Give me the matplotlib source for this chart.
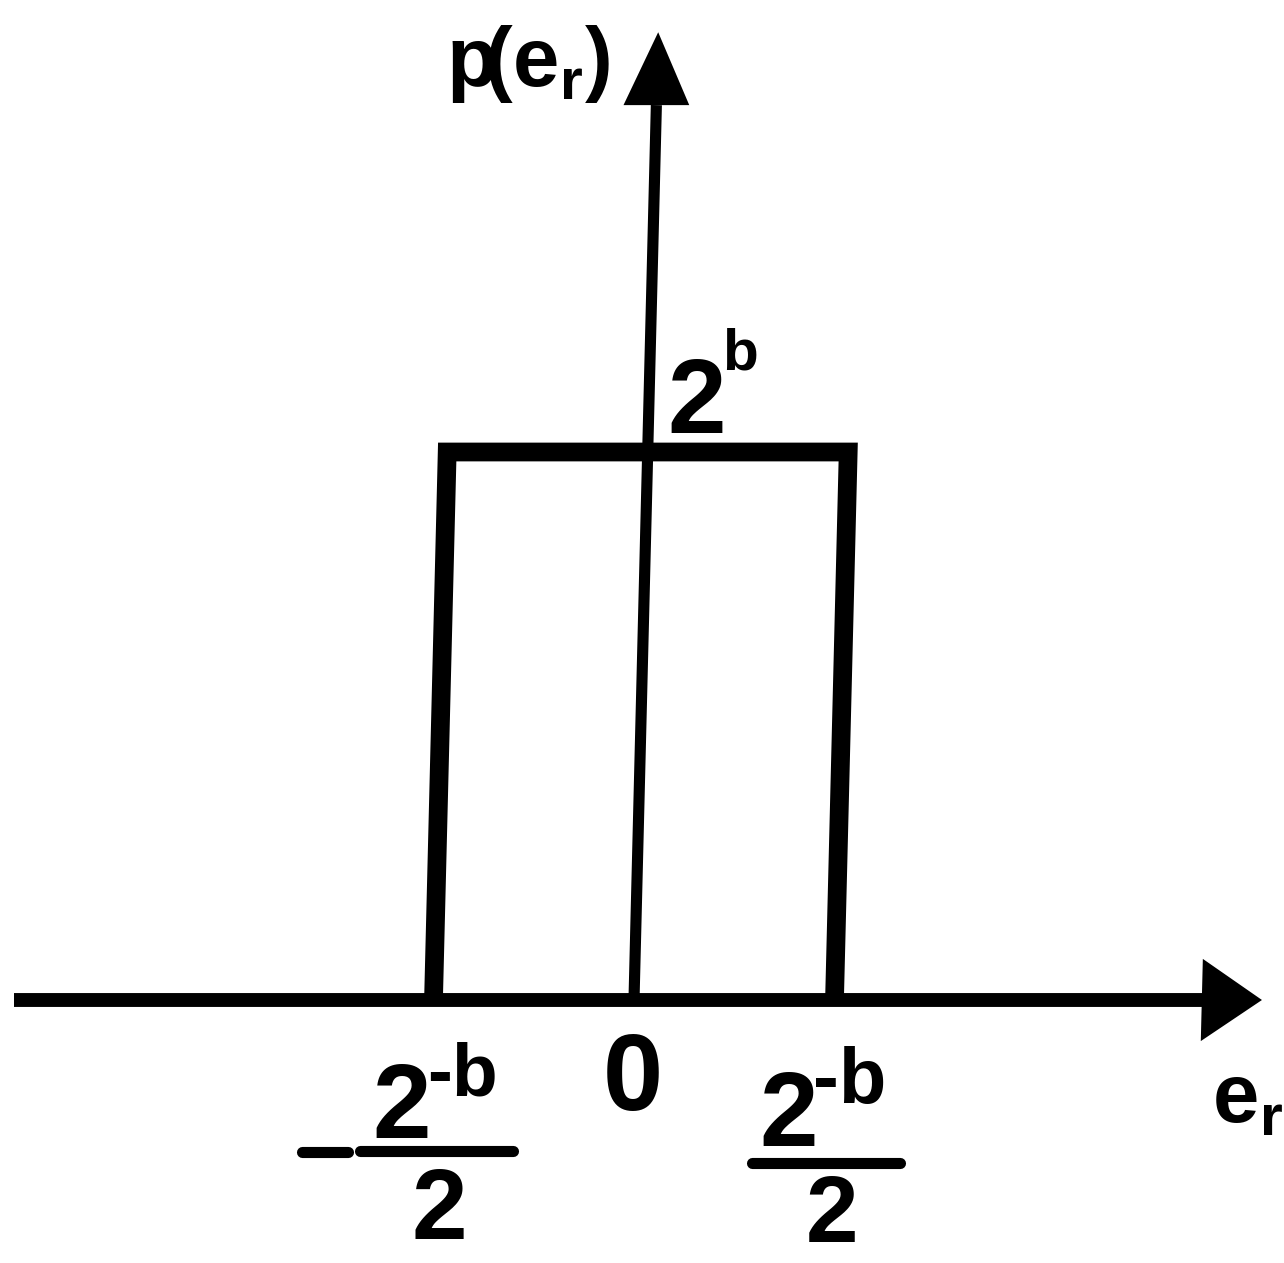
import numpy as np
import matplotlib
matplotlib.use("Agg")
import matplotlib.pyplot as plt
from matplotlib.transforms import Affine2D, IdentityTransform
from matplotlib.patches import Polygon

FONT = ["Liberation Sans", "DejaVu Sans"]
plt.rcParams["mathtext.fontset"] = "custom"
plt.rcParams["mathtext.default"] = "bf"
plt.rcParams["mathtext.bf"] = "Liberation Sans:bold"
plt.rcParams["mathtext.rm"] = "Liberation Sans:bold"
plt.rcParams["mathtext.it"] = "Liberation Sans:bold"

# uniform pdf of the rounding error e_r
err_lo = -0.5          # -2^-b / 2   (x in units of 2^-b)
err_hi = 0.5           #  2^-b / 2
pdf_height = 1.0       #  2^b
tick_vals = [-0.5, 0.0, 0.5]

# axis extents (data units)
x_axis = [-1.546, 1.416]
x_tip = 1.566
y_axis = [0.0, 1.633]
y_tip = 1.766

fig = plt.figure(figsize=(12.84, 12.63), dpi=100)
ax = fig.add_axes([0, 0, 1, 1])
ax.set_xlim(-634 / 401, 650 / 401)
ax.set_ylim(-263 / 548, 1000 / 548)
ax.axis("off")

# the scanned figure leans a little to the right: skew about the x axis
y0 = ax.transData.transform((0, 0))[1]
lean = Affine2D().translate(0, -y0).skew(np.arctan(0.025), 0).translate(0, y0)
tr = ax.transData + lean

# axes
ax.plot(x_axis, [0, 0], color="black", lw=10, solid_capstyle="butt", transform=tr)
ax.add_patch(Polygon([[x_axis[1], -0.075], [x_axis[1], 0.075], [x_tip, 0]],
                     closed=True, color="black", lw=0, transform=tr))
ax.plot([0, 0], y_axis, color="black", lw=8, solid_capstyle="butt", transform=tr)
ax.add_patch(Polygon([[-0.082, y_axis[1]], [0.082, y_axis[1]], [0, y_tip]],
                     closed=True, color="black", lw=0, transform=tr))

# rectangle
ax.plot([err_lo, err_lo, err_hi, err_hi], [0, pdf_height, pdf_height, 0],
        color="black", lw=13.5, solid_joinstyle="miter", solid_capstyle="butt",
        transform=tr)


def label(s, xy, dx, dy, size, ha="center"):
    ax.annotate(s, xy=xy, xytext=(dx, dy), textcoords="offset pixels",
                ha=ha, va="baseline", fontsize=size, fontweight="bold",
                family=FONT, color="black")


def bar(xy, dx1, dx2, dy, lw=8):
    px, py = ax.transData.transform(xy)
    ax.plot([px + dx1, px + dx2], [py + dy, py + dy], color="black", lw=lw,
            solid_capstyle="round", transform=IdentityTransform())


# tick labels
lo, mid, hi = tick_vals
label("2", (lo, 0), -31.5, -138, 76)
label("-b", (lo, 0), -6.5, -95, 54, ha="left")
bar((lo, 0), -73.5, 79.5, -151)
bar((lo, 0), -131.5, -85.5, -152)
label("2", (lo, 0), 5.5, -239, 72)

label("0", (mid, 0), -1, -110, 78)

label("2", (hi, 0), -45.5, -146, 76)
label("-b", (hi, 0), -21.5, -103, 56, ha="left")
bar((hi, 0), -82.5, 65.5, -163)
label("2", (hi, 0), -2.5, -242, 68)

# height label
label("2", (0, pdf_height), 62.5, 19, 76)
label("b", (0, pdf_height), 88, 82, 42, ha="left")

# y axis title p(e_r)
label(r"$p\!(e_r)$", (0, y_tip), -188, -54, 60, ha="left")

# x axis title e_r
label(r"$e_r$", (x_tip, 0), -50, -123, 60, ha="left")

fig.savefig("out.png", dpi=100)
